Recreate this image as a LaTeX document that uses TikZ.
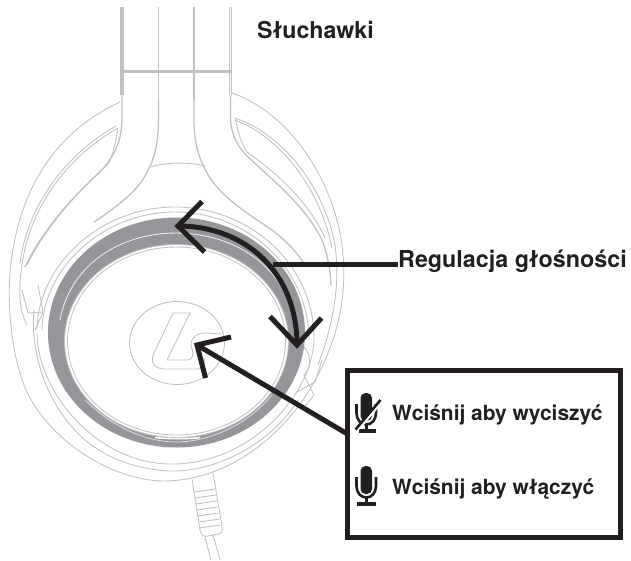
\documentclass[tikz,border=0pt]{standalone}
\usepackage{fontspec}
\setmainfont{TeX Gyre Heros}
\definecolor{ln}{HTML}{BFC0C2}
\definecolor{ring}{HTML}{949699}
\definecolor{ink}{HTML}{231F20}
\tikzset{
  thin line/.style={draw=ln,line width=0.85pt},
  band line/.style={draw=ln,line width=1.3pt},
  heavy/.style={draw=ink,line width=5pt,miter limit=10},
  label text/.style={font=\bfseries,text=ink,inner sep=0pt,anchor=base west},
}
\begin{document}
\begin{tikzpicture}[x=1pt,y=-1pt]
\useasboundingbox (0,0) rectangle (631,560);
% headband
\foreach \xx in {121,123,229.5,231.5}{\draw[band line] (\xx,7) -- (\xx,95);}
\draw[band line] (158.5,7) -- (158.5,100);
\draw[band line] (194,7) -- (194,100);
\draw[draw=ln,line width=2.8pt] (122,71.5) -- (231,71.5);
% straps
\draw[band line] (122,95) -- (122,118) .. controls (122,140) and (115,156) .. (100,172) .. controls (80,190) and (45,225) .. (25,267);
\draw[thin line] (118,128) .. controls (115,145) and (113,155) .. (108,164) .. controls (85,185) and (48,222) .. (27,265);
\draw[band line] (158.5,100) -- (158.5,120) .. controls (158.5,140) and (155,158) .. (148,170) .. controls (140,190) and (115,208) .. (94,222);
\draw[band line] (194,100) -- (194,120) .. controls (194,145) and (200,162) .. (210,178) .. controls (225,200) and (250,215) .. (272,230) .. controls (285,240) and (295,250) .. (303,262);
\draw[band line] (230.5,95) -- (230.5,118) .. controls (231,135) and (238,147) .. (247,156) .. controls (270,178) and (305,205) .. (322,240) .. controls (326,250) and (330,265) .. (331,285);
\draw[thin line] (235,118) .. controls (238,130) and (240,142) .. (247,152) .. controls (275,172) and (308,200) .. (325,238);
\draw[thin line] (151,167) .. controls (165,162) and (190,162) .. (205,166);
% outer cup
\draw[thin line] (120,102) .. controls (70,125) and (25,170) .. (12,255) .. controls (5,300) and (12,360) .. (27,392) .. controls (50,440) and (110,480) .. (163,481) .. controls (225,481) and (275,440) .. (303,400) .. controls (330,360) and (348,310) .. (343,255) .. controls (338,190) and (295,115) .. (232,93);
\draw[thin line] (118,128) .. controls (70,155) and (30,205) .. (22,265) .. controls (18,290) and (19,310) .. (27,325);
\draw[thin line] (116,126) .. controls (68,153) and (28,203) .. (20,263);
\draw[thin line] (235,118) .. controls (285,135) and (325,190) .. (335,245) .. controls (340,280) and (335,320) .. (318,365);
\draw[thin line] (235,120) .. controls (283,138) and (321,192) .. (332,248);
% padded ring
\draw[thin line] (37,333) .. controls (37,390) and (95,463) .. (170,464) .. controls (250,465) and (312,395) .. (314,340);
\draw[thin line] (34,310) .. controls (30,350) and (45,405) .. (85,440) .. controls (115,465) and (150,470) .. (170,471) .. controls (215,472) and (270,445) .. (298,400);
\draw[thin line] (37,330) .. controls (38,265) and (100,207) .. (175,207) .. controls (250,207) and (315,265) .. (314,340);
\draw[thin line] (42,330) .. controls (43,268) and (103,212) .. (175,212) .. controls (247,212) and (309,268) .. (309,340);
% notches
\draw[thin line] (22,290) -- (28,313) -- (43,312) -- (35,330);
\draw[thin line] (43,312) -- (38,285);
\draw[thin line] (304,375) -- (314,395) -- (302,410);
\draw[thin line] (300,345) .. controls (312,348) and (312,370) .. (304,375);
\draw[thin line] (297,392) -- (315,382) -- (322,360);
% grey ring
\path[fill=ring,even odd rule] (176.5,332.5) ellipse [x radius=128.5,y radius=115] (176.5,341) ellipse [x radius=112,y radius=96.5];
\draw[draw=white!80!ring,line width=0.9pt] (60,320) .. controls (70,265) and (120,233) .. (176,233) .. controls (232,233) and (285,265) .. (293,320);
\draw[thin line] (176.5,341) ellipse [x radius=112,y radius=96.5];
\draw[thin line] (176.5,341) ellipse [x radius=109,y radius=94];
\draw[draw=white!75!ring,line width=0.7pt] (85,400) .. controls (115,430) and (150,442) .. (176,442) .. controls (205,442) and (245,428) .. (272,395);
\draw[draw=white,line width=1.6pt] (155,437.5) .. controls (165,439) and (190,439) .. (200,437.5);
% logo
\draw[thin line] (177,343) ellipse [x radius=47.5,y radius=41.5];
\draw[thin line] (173,313) -- (190,313) -- (167,360) -- (188,360) .. controls (194,360) and (194,352) .. (191,346) .. controls (190,340) and (195,333) .. (205,333) -- (222,334);
\draw[thin line] (173,313) -- (154,353) .. controls (149,364) and (156,369) .. (165,369) -- (197,369) .. controls (205,369) and (206,362) .. (204,358);
% cable
\draw[thin line] (192,479) -- (200,530) .. controls (201,536) and (205,537) .. (208,536) -- (218,534) .. controls (222,533) and (223,531) .. (222,526) -- (213,473);
\foreach \yy/\dd in {491/0,497/0.9,503/1.8,509/2.7,515/3.6,521/4.5,527/5.4}{
  \draw[thin line] (194+\dd,\yy+1) -- (215+\dd,\yy-2);
}
\draw[thin line] (205,537) -- (211,560);
\draw[thin line] (213,535) -- (220,560);
% texts and frame
\node[label text,font=\bfseries\fontsize{23.2}{26}\selectfont] (title) at (257,38.5) {Słuchawki};
\node[label text,font=\bfseries\fontsize{23.3}{28}\selectfont,anchor=base west] (vol) at (398,267.5) {Regulacja głośności};
\node[draw=ink,line width=5pt,inner sep=0pt,outer sep=0pt,minimum width=272.5pt,minimum height=166.5pt,anchor=north west] (panel) at (347.5,370.5) {};
\node[label text,font=\bfseries\fontsize{20.9}{24}\selectfont] (muteText) at (392,420.5) {Wciśnij aby wyciszyć};
\node[label text,font=\bfseries\fontsize{20.9}{24}\selectfont] (unmuteText) at (392,494.5) {Wciśnij aby włączyć};
% volume arc
\coordinate (arcStart) at (178,226);
\coordinate (arcEnd) at (297,345);
\coordinate (arcJoin) at (273,264.5);
\draw[heavy] (arcStart) .. controls (245,226) and (297,272) .. (arcEnd);
\draw[heavy] (202,201.5) -- (arcStart) -- (204.5,252);
\draw[heavy] (270,316.5) -- (arcEnd) -- (321.5,318);
\draw[heavy] (arcJoin) -- (vol.west |- arcJoin);
% mute arrow
\coordinate (logoTip) at (197,345);
\draw[heavy] (panel.west |- 0,434) -- (logoTip);
\draw[heavy] (231,337) -- (logoTip) -- (205.5,378);
% mic unmuted
\fill[ink,rounded corners=5pt] (360.5,466) rectangle (372,494);
\draw[ink,line width=2.6pt] (356.5,477) -- (356.5,486) .. controls (356.5,493) and (361,497.5) .. (366.3,497.5) .. controls (371.5,497.5) and (376,493) .. (376,486) -- (376,477);
\draw[ink,line width=2.6pt] (366.3,497) -- (366.3,503);
\draw[ink,line width=3.4pt] (357,504) -- (375.5,504);
% mic muted
\fill[ink,rounded corners=5pt] (360.5,393) rectangle (372,421);
\draw[ink,line width=2.6pt] (356.5,404) -- (356.5,413) .. controls (356.5,420) and (361,424.5) .. (366.3,424.5) .. controls (371.5,424.5) and (376,420) .. (376,413) -- (376,404);
\draw[ink,line width=2.6pt] (366.3,424) -- (366.3,430);
\draw[ink,line width=3.4pt] (359,431) -- (375.5,431);
\draw[white,line width=3.6pt] (358.5,428.5) -- (383,399.5);
\draw[ink,line width=2.6pt] (355.5,429.5) -- (380.5,400);
\end{tikzpicture}
\end{document}
